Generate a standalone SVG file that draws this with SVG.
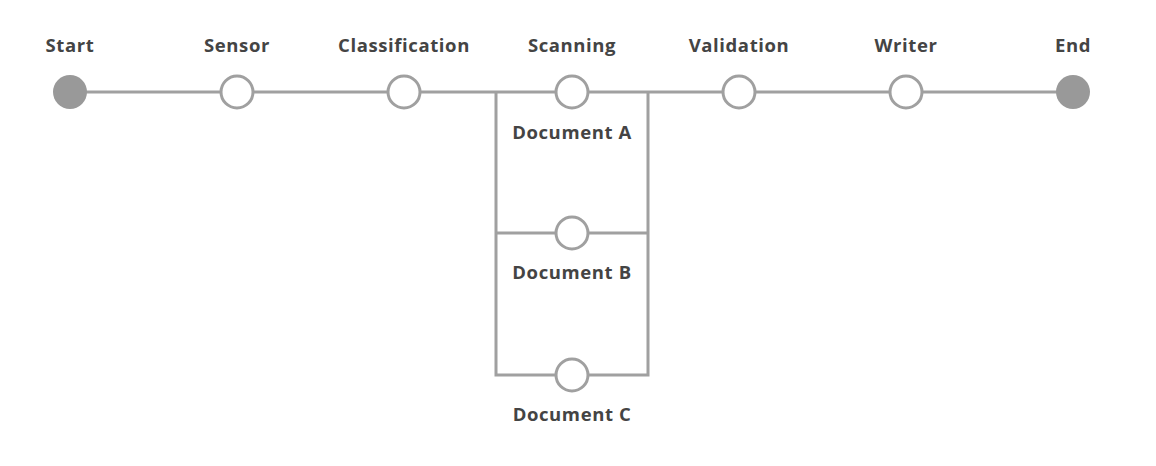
<svg xmlns="http://www.w3.org/2000/svg" width="1156" height="466" viewBox="0 0 1156 466">
<style>
.ln{stroke:#a0a0a0;stroke-width:3;fill:none;stroke-linejoin:miter}
.st{fill:#fff;stroke:#a0a0a0;stroke-width:3}
.term{fill:#999;stroke:none}
.lb{font-family:"Open Sans","Noto Sans",sans-serif;font-weight:bold;font-size:18.5px;letter-spacing:0.6px;fill:#444;text-anchor:middle}
</style>
<rect width="1156" height="466" fill="#fff"/>
<g id="connectors">
<path class="ln" d="M70 92H1073"/>
<path class="ln" d="M496 92V375H648V92"/>
<path class="ln" d="M496 233H648"/>
</g>
<g id="start"><circle class="term" cx="70" cy="92" r="17"/><text class="lb" x="70" y="52">Start</text></g>
<g id="sensor"><circle class="st" cx="237" cy="92" r="16"/><text class="lb" x="237" y="52">Sensor</text></g>
<g id="classification"><circle class="st" cx="404" cy="92" r="16"/><text class="lb" x="404" y="52">Classification</text></g>
<g id="scanning"><circle class="st" cx="572" cy="92" r="16"/><text class="lb" x="572" y="52">Scanning</text><text class="lb" x="572" y="139">Document A</text></g>
<g id="documentB"><circle class="st" cx="572" cy="233" r="16"/><text class="lb" x="572" y="279">Document B</text></g>
<g id="documentC"><circle class="st" cx="572" cy="375" r="16"/><text class="lb" x="572" y="421">Document C</text></g>
<g id="validation"><circle class="st" cx="739" cy="92" r="16"/><text class="lb" x="739" y="52">Validation</text></g>
<g id="writer"><circle class="st" cx="906" cy="92" r="16"/><text class="lb" x="906" y="52">Writer</text></g>
<g id="end"><circle class="term" cx="1073" cy="92" r="17"/><text class="lb" x="1073" y="52">End</text></g>
</svg>
